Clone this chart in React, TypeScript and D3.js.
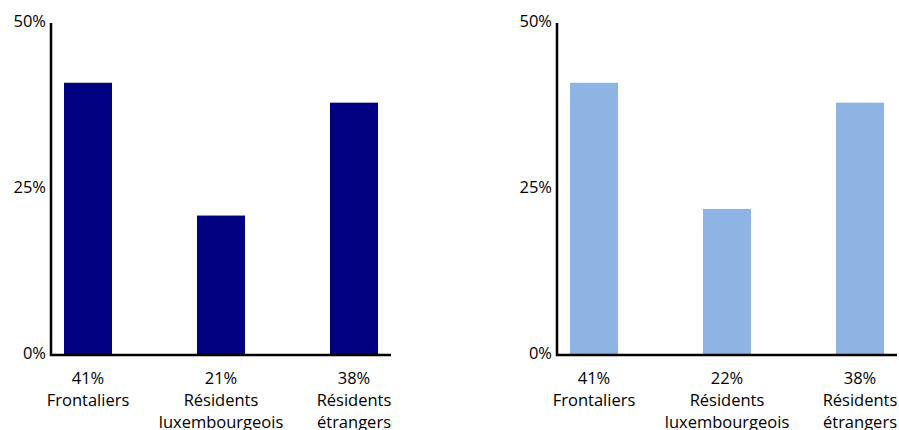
import React from "react";
import * as d3 from "d3";

const categories = ["Frontaliers", "Résidents luxembourgeois", "Résidents étrangers"];
const labelLines = [["Frontaliers"], ["Résidents", "luxembourgeois"], ["Résidents", "étrangers"]];
const leftValues = [41, 21, 38];
const rightValues = [41, 22, 38];
const yTicks = [0, 25, 50];

const FONT = "'Open Sans', 'Liberation Sans', sans-serif";

function Panel({ x0, values, color }: { x0: number; values: number[]; color: string }) {
  const yTop = 23;
  const yBottom = 355;
  const y = d3.scaleLinear().domain([0, 50]).range([yBottom, yTop]);
  const step = 133;
  const pi = 85 / 133;
  const po = 13 / 133;
  const width = step * (categories.length - pi + 2 * po);
  const x = d3
    .scaleBand<string>()
    .domain(categories)
    .range([x0, x0 + width])
    .paddingInner(pi)
    .paddingOuter(po)
    .align(0.5);
  return (
    <g>
      {categories.map((c, i) => (
        <rect
          key={c}
          x={x(c)}
          y={y(values[i])}
          width={x.bandwidth()}
          height={y(0) - y(values[i])}
          fill={color}
        />
      ))}
      <line x1={x0} x2={x0} y1={yTop} y2={yBottom + 1} stroke="#000" strokeWidth={2.5} />
      <line x1={x0 - 1} x2={x0 + width} y1={yBottom} y2={yBottom} stroke="#000" strokeWidth={2.5} />
      {yTicks.map((t) => (
        <text
          key={t}
          x={x0 - 5}
          y={y(t)}
          textAnchor="end"
          dominantBaseline="middle"
          fontSize={16.5}
          fontFamily={FONT}
          fill="#000"
        >
          {t}%
        </text>
      ))}
      {categories.map((c, i) => {
        const cx = (x(c) as number) + x.bandwidth() / 2;
        const lines = [`${values[i]}%`, ...labelLines[i]];
        return (
          <text key={c} textAnchor="middle" fontSize={16.5} fontFamily={FONT} fill="#000">
            {lines.map((l, j) => (
              <tspan key={j} x={cx} y={384 + j * 22}>
                {l}
              </tspan>
            ))}
          </text>
        );
      })}
    </g>
  );
}

export default function App() {
  return (
    <svg
      width={899}
      height={430}
      style={{ position: "absolute", left: 0, top: 0, background: "#fff" }}
    >
      <Panel x0={51} values={leftValues} color="#000080" />
      <Panel x0={557} values={rightValues} color="#8EB4E3" />
    </svg>
  );
}
